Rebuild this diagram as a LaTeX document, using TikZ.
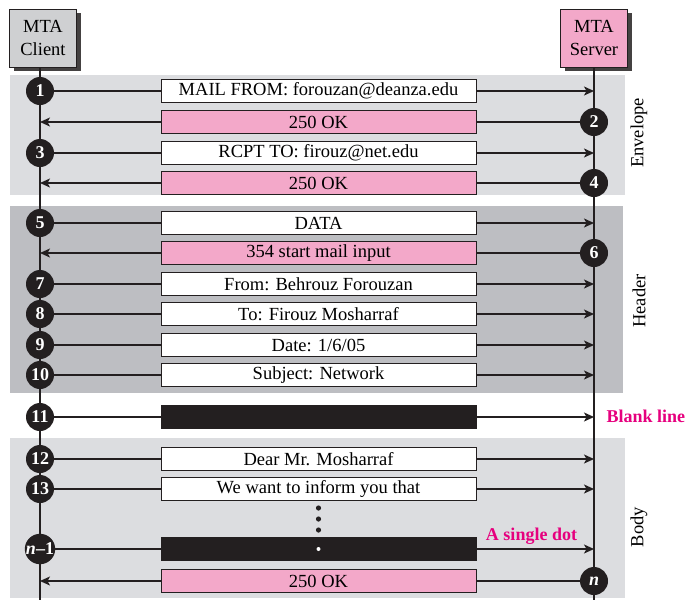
\documentclass[tikz,border=0pt]{standalone}
\usepackage{fontspec}
\setmainfont{Liberation Serif}
\usetikzlibrary{arrows.meta, shadows}

\definecolor{ink}{RGB}{35,31,32}
\definecolor{mtapink}{RGB}{243,168,201}
\definecolor{mtagray}{RGB}{207,208,210}
\definecolor{lightband}{RGB}{220,221,224}
\definecolor{darkband}{RGB}{189,190,194}
\definecolor{hotpink}{RGB}{230,0,126}

\begin{document}
\begin{tikzpicture}[x=1pt, y=-1pt,
    mta/.style={draw=ink, line width=0.8pt, minimum width=67pt, minimum height=58pt,
      align=center, inner sep=0pt, font=\fontsize{18.5}{23}\selectfont,
      drop shadow={shadow xshift=4pt, shadow yshift=-4pt, fill=ink!85, opacity=1}},
    msg/.style={draw=ink, line width=0.8pt, fill=white, minimum width=315pt,
      minimum height=23pt, inner sep=0pt, font=\fontsize{18.5}{19}\selectfont},
    reply/.style={msg, fill=mtapink},
    blank/.style={msg, fill=ink},
    num/.style={circle, fill=ink, text=white, minimum size=28pt, inner sep=0pt,
      font=\bfseries\fontsize{18}{18}\selectfont},
    life/.style={draw=ink, line width=1.4pt},
    flow/.style={life, -{Stealth[length=10pt, width=9pt, inset=2.5pt]}},
    part/.style={rotate=90, font=\fontsize{18.5}{19}\selectfont},
    note/.style={text=hotpink, font=\bfseries\fontsize{18}{18}\selectfont}]
  \useasboundingbox (0,0) rectangle (686,600);

  % 1. bands for envelope, header and body
  \fill[lightband] (10,75) rectangle (625,195);
  \fill[darkband] (10,206) rectangle (623,393);
  \fill[lightband] (10,438) rectangle (625,598);
  \node[part] at (639,133) {Envelope};
  \node[part] at (639,301) {Header};
  \node[part] at (639,527) {Body};

  % 2. the two agents and their lifelines
  \node[mta, fill=mtagray] (client) at (43,38) {MTA\\Client};
  \node[mta, fill=mtapink] (server) at (594,38) {MTA\\Server};
  \coordinate (clientEnd) at (40,600);
  \coordinate (serverEnd) at (594,600);
  \draw[life] (client.south -| clientEnd) -- (clientEnd);
  \draw[life] (server) -- (serverEnd);

  % 3. envelope
  \node[msg] (m1) at (318.5,91) {MAIL FROM: forouzan@deanza.edu};
  \node[num] (n1) at (40,91) {1};
  \coordinate (s1) at (m1 -| server);
  \draw[life] (n1) -- (m1); \draw[flow] (m1) -- (s1);

  \node[reply] (m2) at (318.5,122) {250 OK};
  \node[num] (n2) at (594,122) {2};
  \coordinate (c2) at (m2 -| clientEnd);
  \draw[life] (n2) -- (m2); \draw[flow] (m2) -- (c2);

  \node[msg] (m3) at (318.5,153) {RCPT TO: firouz@net.edu};
  \node[num] (n3) at (40,153) {3};
  \coordinate (s3) at (m3 -| server);
  \draw[life] (n3) -- (m3); \draw[flow] (m3) -- (s3);

  \node[reply] (m4) at (318.5,183) {250 OK};
  \node[num] (n4) at (594,183) {4};
  \coordinate (c4) at (m4 -| clientEnd);
  \draw[life] (n4) -- (m4); \draw[flow] (m4) -- (c4);

  % 4. header
  \node[msg] (m5) at (318.5,223) {DATA};
  \node[num] (n5) at (40,223) {5};
  \coordinate (s5) at (m5 -| server);
  \draw[life] (n5) -- (m5); \draw[flow] (m5) -- (s5);

  \node[reply] (m6) at (318.5,253) {354 start mail input};
  \node[num] (n6) at (594,253) {6};
  \coordinate (c6) at (m6 -| clientEnd);
  \draw[life] (n6) -- (m6); \draw[flow] (m6) -- (c6);

  \node[msg] (m7) at (318.5,284) {From: Behrouz Forouzan};
  \node[num] (n7) at (40,284) {7};
  \coordinate (s7) at (m7 -| server);
  \draw[life] (n7) -- (m7); \draw[flow] (m7) -- (s7);

  \node[msg] (m8) at (318.5,314) {To: Firouz Mosharraf};
  \node[num] (n8) at (40,314) {8};
  \coordinate (s8) at (m8 -| server);
  \draw[life] (n8) -- (m8); \draw[flow] (m8) -- (s8);

  \node[msg] (m9) at (318.5,345) {Date: 1/6/05};
  \node[num] (n9) at (40,345) {9};
  \coordinate (s9) at (m9 -| server);
  \draw[life] (n9) -- (m9); \draw[flow] (m9) -- (s9);

  \node[msg] (m10) at (318.5,375) {Subject: Network};
  \node[num] (n10) at (40,375) {10};
  \coordinate (s10) at (m10 -| server);
  \draw[life] (n10) -- (m10); \draw[flow] (m10) -- (s10);

  % 5. blank line
  \node[blank] (m11) at (318.5,417) {};
  \node[num] (n11) at (40,417) {11};
  \coordinate (s11) at (m11 -| server);
  \draw[life] (n11) -- (m11); \draw[flow] (m11) -- (s11);
  \node[note, anchor=west] at (603,416) {Blank line};

  % 6. body
  \node[msg] (m12) at (318.5,459) {Dear Mr. Mosharraf};
  \node[num] (n12) at (40,459) {12};
  \coordinate (s12) at (m12 -| server);
  \draw[life] (n12) -- (m12); \draw[flow] (m12) -- (s12);

  \node[msg] (m13) at (318.5,489) {We want to inform you that};
  \node[num] (n13) at (40,489) {13};
  \coordinate (s13) at (m13 -| server);
  \draw[life] (n13) -- (m13); \draw[flow] (m13) -- (s13);

  \fill[ink] (318.5,508) circle (2.6);
  \fill[ink] (318.5,519) circle (2.6);
  \fill[ink] (318.5,530) circle (2.6);

  \node[blank] (m14) at (318.5,549) {};
  \fill[white] (m14.center) circle (2);
  \node[num] (n14) at (40,549) {\textit{n}–1};
  \coordinate (s14) at (m14 -| server);
  \draw[life] (n14) -- (m14); \draw[flow] (m14) -- (s14);
  \node[note] at (531.5,536) {A single dot};

  \node[reply] (m15) at (318.5,581) {250 OK};
  \node[num] (n15) at (594,581) {\textit{n}};
  \coordinate (c15) at (m15 -| clientEnd);
  \draw[life] (n15) -- (m15); \draw[flow] (m15) -- (c15);
\end{tikzpicture}
\end{document}
